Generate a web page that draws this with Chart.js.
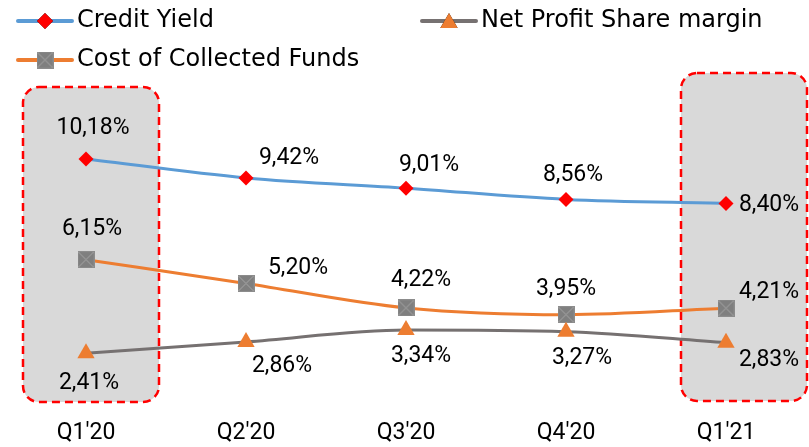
<!DOCTYPE html>
<html>
<head>
<meta charset="utf-8">
<script src="https://cdn.jsdelivr.net/npm/chart.js@4.4.1/dist/chart.umd.min.js"></script>
<style>
  html, body { margin: 0; padding: 0; background: #ffffff; }
  #wrap { width: 809px; height: 447px; position: relative; }
</style>
</head>
<body>
<div id="wrap"><canvas id="c" width="809" height="447"></canvas></div>
<script>
// ---- data ----
const categories = ["Q1'20", "Q2'20", "Q3'20", "Q4'20", "Q1'21"];
const creditYield = [10.18, 9.42, 9.01, 8.56, 8.40];
const costOfCollectedFunds = [6.15, 5.20, 4.22, 3.95, 4.21];
const netProfitShareMargin = [2.41, 2.86, 3.34, 3.27, 2.83];
const seriesNames = ["Credit Yield", "Net Profit Share margin", "Cost of Collected Funds"];

// ---- styling helpers ----
const LABEL_FONT = "23px Roboto";
const LEGEND_FONT = "24px 'DejaVu Sans'";

function makeSquareMarker(size) {
  const cv = document.createElement('canvas');
  cv.width = size; cv.height = size;
  const g = cv.getContext('2d');
  g.fillStyle = '#7f7f7f';
  g.fillRect(0, 0, size, size);
  g.strokeStyle = '#a6a6a6';
  g.lineWidth = 1;
  g.beginPath();
  g.moveTo(1, 1); g.lineTo(size - 1, size - 1);
  g.moveTo(size - 1, 1); g.lineTo(1, size - 1);
  g.stroke();
  g.strokeStyle = '#8c8c8c';
  g.strokeRect(0.5, 0.5, size - 1, size - 1);
  return cv;
}
const squareMarker = makeSquareMarker(17);

// label offsets (pixels) per dataset index, per point
const labelOffsets = [
  [[7, -31], [43, -20], [23, -23], [7, -24], [43, 2]],
  [[3, 30], [36, 24], [15, 26], [16, 27], [43, 18]],
  [[6, -30], [52, -15], [15, -28], [0, -25], [43, -16]]
];

const fmt = v => v.toFixed(2).replace('.', ',') + '%';

const boxPlugin = {
  id: 'boxes',
  beforeDatasetsDraw(chart) {
    const ctx = chart.ctx;
    const xs = chart.scales.x;
    const boxes = [
      { idx: 0, left: -63, right: 73, top: 87, bottom: 402 },
      { idx: 4, left: -45, right: 81, top: 73, bottom: 401 }
    ];
    ctx.save();
    boxes.forEach(b => {
      const cx = xs.getPixelForValue(b.idx);
      const x = cx + b.left, w = b.right - b.left;
      const y = b.top, h = b.bottom - b.top;
      ctx.beginPath();
      ctx.roundRect(x, y, w, h, 16);
      ctx.fillStyle = '#d9d9d9';
      ctx.fill();
      ctx.setLineDash([8, 5]);
      ctx.lineWidth = 2.5;
      ctx.strokeStyle = '#ff0000';
      ctx.stroke();
    });
    ctx.restore();
  }
};

const labelPlugin = {
  id: 'valueLabels',
  afterDatasetsDraw(chart) {
    const ctx = chart.ctx;
    ctx.save();
    ctx.font = LABEL_FONT;
    ctx.fillStyle = '#000000';
    ctx.textAlign = 'center';
    ctx.textBaseline = 'middle';
    chart.data.datasets.forEach((ds, di) => {
      const meta = chart.getDatasetMeta(di);
      meta.data.forEach((pt, i) => {
        const off = labelOffsets[di][i];
        ctx.fillText(fmt(ds.data[i]), pt.x + off[0], pt.y + off[1]);
      });
    });
    ctx.restore();
  }
};

const legendPlugin = {
  id: 'gridLegend',
  afterDraw(chart) {
    const ctx = chart.ctx;
    const items = [
      { di: 0, x: 17, y: 21 },
      { di: 1, x: 421, y: 21 },
      { di: 2, x: 17, y: 60 }
    ];
    ctx.save();
    items.forEach(it => {
      const ds = chart.data.datasets[it.di];
      ctx.beginPath();
      ctx.lineWidth = 4;
      ctx.lineCap = 'round';
      ctx.strokeStyle = ds.borderColor;
      ctx.moveTo(it.x + 1, it.y);
      ctx.lineTo(it.x + 55, it.y);
      ctx.stroke();
      const mx = it.x + 28;
      if (ds.pointStyle instanceof HTMLCanvasElement) {
        ctx.drawImage(ds.pointStyle, mx - 8.5, it.y - 8.5);
      } else {
        Chart.helpers.drawPoint(ctx, {
          pointStyle: ds.pointStyle,
          radius: ds.pointStyle === 'triangle' ? 10 : 8,
          rotation: 0,
          borderWidth: 0
        }, mx, ds.pointStyle === 'triangle' ? it.y + 2 : it.y);
        ctx.fillStyle = ds.pointBackgroundColor;
        ctx.fill();
      }
      ctx.font = LEGEND_FONT;
      ctx.fillStyle = '#000000';
      ctx.textAlign = 'left';
      ctx.textBaseline = 'middle';
      ctx.fillText(ds.label, it.x + 60, it.y);
    });
    ctx.restore();
  }
};

new Chart(document.getElementById('c'), {
  type: 'line',
  data: {
    labels: categories,
    datasets: [
      {
        label: seriesNames[0],
        data: creditYield,
        borderColor: '#5b9bd5',
        borderWidth: 3,
        cubicInterpolationMode: 'monotone',
        pointStyle: 'rectRot',
        pointRadius: 7.5,
        pointHoverRadius: 7.5,
        pointBackgroundColor: '#ff0000',
        pointBorderColor: '#ff0000',
        pointBorderWidth: 0
      },
      {
        label: seriesNames[1],
        data: netProfitShareMargin,
        borderColor: '#767171',
        borderWidth: 3,
        cubicInterpolationMode: 'monotone',
        pointStyle: 'triangle',
        pointRadius: 10,
        pointHoverRadius: 10,
        pointBackgroundColor: '#ed7d31',
        pointBorderColor: '#ed7d31',
        pointBorderWidth: 0
      },
      {
        label: seriesNames[2],
        data: costOfCollectedFunds,
        borderColor: '#ed7d31',
        borderWidth: 3,
        cubicInterpolationMode: 'monotone',
        pointStyle: squareMarker,
        pointRadius: 8,
        pointHoverRadius: 8,
        pointBackgroundColor: '#7f7f7f',
        pointBorderWidth: 0
      }
    ]
  },
  options: {
    responsive: false,
    devicePixelRatio: 1,
    animation: false,
    layout: { autoPadding: false, padding: { top: 88.4, left: 6, right: 3, bottom: 0 } },
    plugins: {
      legend: { display: false },
      tooltip: { enabled: false }
    },
    scales: {
      x: {
        offset: true,
        grid: { display: false, drawTicks: false },
        border: { display: false },
        ticks: {
          color: '#000000',
          padding: 6,
          maxRotation: 0,
          autoSkip: false,
          font: { family: 'Roboto', size: 23 }
        },
        afterFit(scale) { scale.height = 33.6; }
      },
      y: {
        display: false,
        min: 0,
        max: 13
      }
    }
  },
  plugins: [boxPlugin, labelPlugin, legendPlugin]
});
</script>
</body>
</html>
